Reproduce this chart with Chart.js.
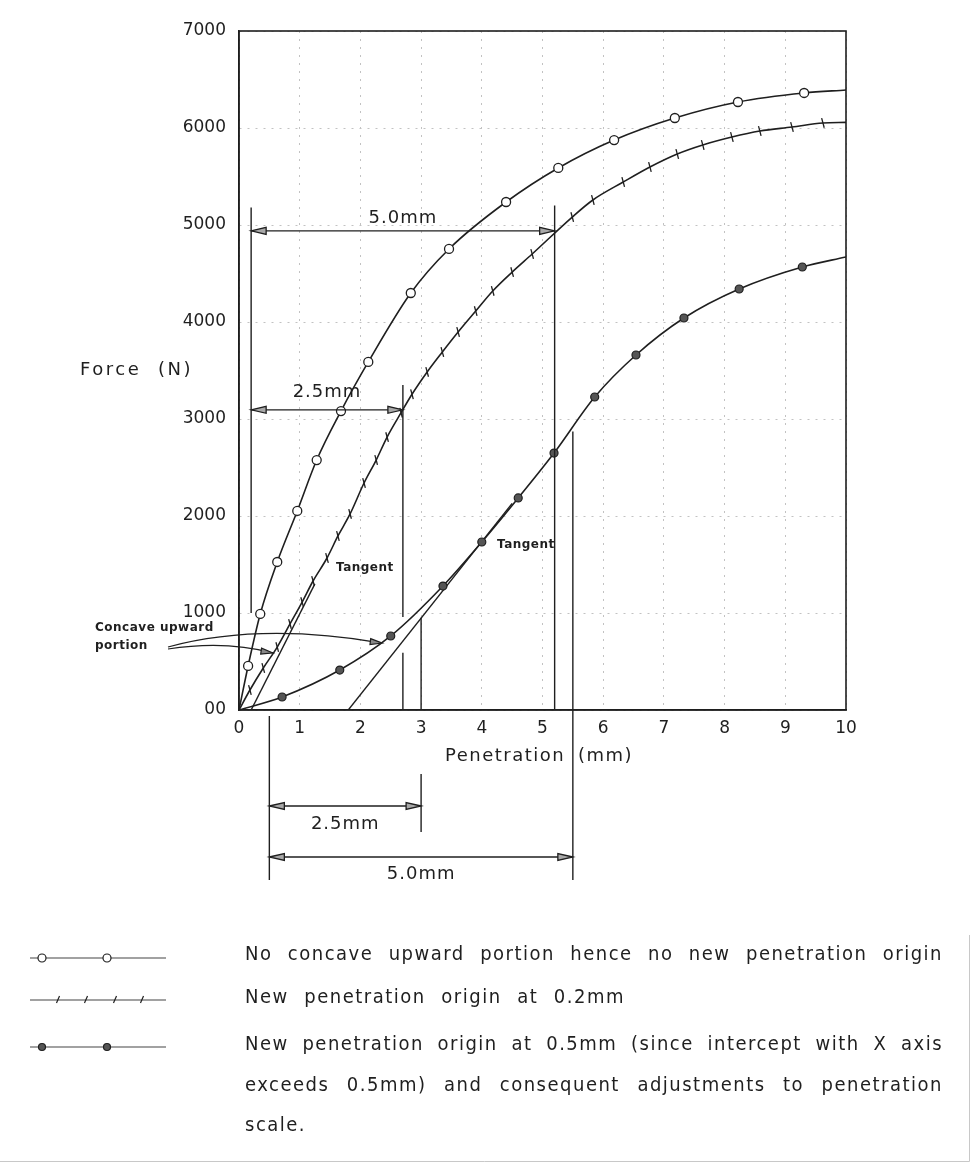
<!DOCTYPE html>
<html>
<head>
<meta charset="utf-8">
<script src="https://cdn.jsdelivr.net/npm/chart.js@4.4.0/dist/chart.umd.min.js"></script>
<style>
  html, body { margin: 0; padding: 0; background: #ffffff; }
  #wrap { width: 973px; height: 1166px; }
</style>
</head>
<body>
<div id="wrap"><canvas id="chart" width="973" height="1166"></canvas></div>
<script>
// Force vs penetration

// curve with open circles
var penCircle   = [0, 0.15, 0.35, 0.63, 0.96, 1.28, 1.68, 2.13, 2.83, 3.46, 4.40, 5.26, 6.18, 7.18, 8.22, 9.31, 10];
var forceCircle = [0, 454, 990, 1526, 2052, 2577, 3082, 3588, 4299, 4753, 5237, 5588, 5876, 6103, 6268, 6361, 6392];

// curve with tick marks
var penTick   = [0, 0.18, 0.40, 0.63, 0.84, 1.04, 1.22, 1.45, 1.63, 1.83, 2.06, 2.26, 2.44, 2.67, 2.85, 3.10, 3.35, 3.61, 3.90, 4.18, 4.50, 4.83, 5.49, 5.83, 6.33, 6.77, 7.22, 7.64, 8.12, 8.58, 9.11, 9.62, 10];
var forceTick = [0, 206, 433, 649, 887, 1113, 1330, 1567, 1794, 2021, 2340, 2577, 2814, 3065, 3255, 3485, 3691, 3897, 4113, 4320, 4515, 4701, 5082, 5258, 5443, 5598, 5732, 5825, 5907, 5969, 6010, 6052, 6058];

// curve with filled dots
var penDot   = [0, 0.71, 1.66, 2.50, 3.36, 4.00, 4.60, 5.19, 5.86, 6.54, 7.33, 8.24, 9.28, 10];
var forceDot = [0, 134, 412, 763, 1278, 1732, 2186, 2649, 3227, 3660, 4041, 4340, 4567, 4670];

// tangents
var tanPenA   = [0.2, 1.25];
var tanForceA = [0, 1300];
var tanPenB   = [1.8, 4.5];
var tanForceB = [0, 2130];

// axis ticks
var xTicks = [0, 1, 2, 3, 4, 5, 6, 7, 8, 9, 10];
var yTicks = [0, 1000, 2000, 3000, 4000, 5000, 6000, 7000];

// dimension lines (mm / N)
var dimTop  = { from: 0.2, to: 5.2, force: 4940, label: "5.0mm" };
var dimMid  = { from: 0.2, to: 2.7, force: 3095, label: "2.5mm" };
var dimLow1 = { from: 0.5, to: 3.0, label: "2.5mm" };
var dimLow2 = { from: 0.5, to: 5.5, label: "5.0mm" };

var INK = "#1f1f1f";

function toPoints(xs, ys) {
    return xs.map(function(x, i) { return { x: x, y: ys[i] }; });
}

// no marker on first and last point
function radii(n, r) {
    return Array.from({ length: n }, function(_, i) { return (i === 0 || i === n - 1) ? 0 : r; });
}

// arrow head, tip at (x, y), dir = -1 points left, +1 points right
function arrowHead(ctx, x, y, dir) {
    ctx.beginPath();
    ctx.moveTo(x, y);
    ctx.lineTo(x - dir * 15, y - 3.5);
    ctx.lineTo(x - dir * 15, y + 3.5);
    ctx.closePath();
    ctx.fillStyle = "#a8a8a8";
    ctx.fill();
    ctx.stroke();
}

function dimension(ctx, x1, x2, y, label, labelY) {
    ctx.beginPath();
    ctx.moveTo(x1, y);
    ctx.lineTo(x2, y);
    ctx.stroke();
    arrowHead(ctx, x1, y, -1);
    arrowHead(ctx, x2, y, 1);
    ctx.fillStyle = INK;
    ctx.font = "18px 'DejaVu Sans'";
    ctx.letterSpacing = "1px";
    ctx.textAlign = "center";
    ctx.textBaseline = "middle";
    ctx.fillText(label, (x1 + x2) / 2, labelY);
    ctx.letterSpacing = "0px";
}

function vline(ctx, x, y1, y2) {
    ctx.beginPath();
    ctx.moveTo(x, y1);
    ctx.lineTo(x, y2);
    ctx.stroke();
}

// justified text line
function textLine(ctx, str, x, y, width) {
    var words = str.split(" ");
    ctx.textAlign = "left";
    if (!width || words.length < 2) {
        ctx.fillText(str, x, y);
        return;
    }
    var total = 0;
    words.forEach(function(w) { total += ctx.measureText(w).width; });
    var gap = (width - total) / (words.length - 1);
    var cx = x;
    words.forEach(function(w) {
        ctx.fillText(w, cx, y);
        cx += ctx.measureText(w).width + gap;
    });
}

var annotations = {
    id: "annotations",
    afterDatasetsDraw: function(chart) {
        var ctx = chart.ctx;
        var a = chart.chartArea;
        var sx = chart.scales.x, sy = chart.scales.y;
        var px = function(v) { return sx.getPixelForValue(v); };
        var py = function(v) { return sy.getPixelForValue(v); };

        ctx.save();
        ctx.strokeStyle = INK;
        ctx.lineWidth = 1.6;

        // frame
        ctx.strokeRect(a.left, a.top, a.right - a.left, a.bottom - a.top);

        // vertical construction lines
        ctx.lineWidth = 1.4;
        vline(ctx, px(0.2), py(5180), py(1000));
        vline(ctx, px(2.7), py(3350), py(960));
        vline(ctx, px(2.7), py(590), a.bottom);
        vline(ctx, px(5.2), py(5200), a.bottom);
        vline(ctx, px(3.0), py(950), a.bottom);
        vline(ctx, px(5.5), py(2870), a.bottom + 170);
        vline(ctx, px(0.5), a.bottom + 6, a.bottom + 170);
        vline(ctx, px(3.0), a.bottom + 64, a.bottom + 122);

        // dimension arrows
        ctx.lineWidth = 1.3;
        dimension(ctx, px(dimTop.from), px(dimTop.to), py(dimTop.force), dimTop.label, py(dimTop.force) - 12);
        dimension(ctx, px(dimMid.from), px(dimMid.to), py(dimMid.force), dimMid.label, py(dimMid.force) - 17);
        dimension(ctx, px(dimLow1.from), px(dimLow1.to), a.bottom + 96, dimLow1.label, a.bottom + 114);
        dimension(ctx, px(dimLow2.from), px(dimLow2.to), a.bottom + 147, dimLow2.label, a.bottom + 164);

        // "Concave upward portion" pointers
        ctx.lineWidth = 1.2;
        ctx.beginPath();
        ctx.moveTo(168, 647);
        ctx.quadraticCurveTo(260, 622, px(2.36), py(690));
        ctx.stroke();
        ctx.beginPath();
        ctx.moveTo(168, 649);
        ctx.quadraticCurveTo(225, 640, px(0.56), py(588));
        ctx.stroke();
        [[px(2.36), py(690), 0.12], [px(0.56), py(588), 0.15]].forEach(function(t) {
            ctx.save();
            ctx.translate(t[0], t[1]);
            ctx.rotate(t[2]);
            ctx.beginPath();
            ctx.moveTo(0, 0);
            ctx.lineTo(-12, -3);
            ctx.lineTo(-12, 3);
            ctx.closePath();
            ctx.fillStyle = "#888";
            ctx.fill();
            ctx.stroke();
            ctx.restore();
        });

        ctx.fillStyle = INK;
        ctx.font = "bold 12px 'DejaVu Sans'";
        ctx.letterSpacing = "0.5px";
        ctx.textAlign = "left";
        ctx.textBaseline = "middle";
        ctx.fillText("Concave upward", 95, 628);
        ctx.fillText("portion", 95, 646);
        ctx.fillText("Tangent", 336, 568);
        ctx.fillText("Tangent", 497, 545);

        // axis titles
        ctx.font = "18px 'DejaVu Sans'";
        ctx.letterSpacing = "2.5px";
        ctx.fillText("Force", 80, 370);
        ctx.fillText("(N)", 158, 370);
        ctx.letterSpacing = "1.5px";
        ctx.fillText("Penetration", 445, a.bottom + 46);
        ctx.fillText("(mm)", 578, a.bottom + 46);
        ctx.letterSpacing = "0px";

        // legend
        var lx1 = 30, lx2 = 166;
        var rows = [958, 1000, 1047];
        ctx.lineWidth = 1.2;
        ctx.strokeStyle = "#444";
        rows.forEach(function(y) {
            ctx.beginPath();
            ctx.moveTo(lx1, y);
            ctx.lineTo(lx2, y);
            ctx.stroke();
        });
        ctx.strokeStyle = INK;
        [42, 107].forEach(function(x) {
            ctx.beginPath();
            ctx.arc(x, rows[0], 4, 0, Math.PI * 2);
            ctx.fillStyle = "#fff";
            ctx.fill();
            ctx.stroke();
            ctx.beginPath();
            ctx.arc(x, rows[2], 3.5, 0, Math.PI * 2);
            ctx.fillStyle = "#555";
            ctx.fill();
            ctx.stroke();
        });
        [58, 86, 115, 142].forEach(function(x) {
            ctx.beginPath();
            ctx.moveTo(x - 1.5, rows[1] + 3);
            ctx.lineTo(x + 1.5, rows[1] - 4);
            ctx.stroke();
        });

        ctx.fillStyle = INK;
        ctx.font = "20px 'DejaVu Sans Condensed', 'DejaVu Sans'";
        ctx.letterSpacing = "1.5px";
        ctx.textBaseline = "middle";
        var tx = 245, tw = 698;
        textLine(ctx, "No concave upward portion hence no new penetration origin", tx, 955, tw);
        textLine(ctx, "New penetration origin at 0.2mm", tx, 998, 380);
        textLine(ctx, "New penetration origin at 0.5mm (since intercept with X axis", tx, 1045, tw);
        textLine(ctx, "exceeds 0.5mm) and consequent adjustments to penetration", tx, 1086, tw);
        textLine(ctx, "scale.", tx, 1126, 0);
        ctx.letterSpacing = "0px";

        // page edge
        ctx.strokeStyle = "#c8c8c8";
        ctx.lineWidth = 1;
        ctx.beginPath();
        ctx.moveTo(0, 1161.5);
        ctx.lineTo(969.5, 1161.5);
        ctx.lineTo(969.5, 935);
        ctx.stroke();

        ctx.restore();
    }
};

var gridOpts = {
    color: "#c2c2c2",
    lineWidth: 1,
    drawTicks: false
};

var canvas = document.getElementById("chart");

var chart = new Chart(canvas, {
    type: "line",
    data: {
        datasets: [
            {
                label: "No concave upward portion hence no new penetration origin",
                data: toPoints(penCircle, forceCircle),
                borderColor: INK,
                borderWidth: 1.6,
                pointStyle: "circle",
                pointRadius: radii(penCircle.length, 4.5),
                pointBackgroundColor: "#ffffff",
                pointBorderColor: INK,
                pointBorderWidth: 1.3,
                cubicInterpolationMode: "monotone"
            },
            {
                label: "New penetration origin at 0.2mm",
                data: toPoints(penTick, forceTick),
                borderColor: INK,
                borderWidth: 1.6,
                pointStyle: "line",
                pointRotation: 75,
                pointRadius: radii(penTick.length, 5),
                pointBorderColor: INK,
                pointBorderWidth: 1.3,
                cubicInterpolationMode: "monotone"
            },
            {
                label: "New penetration origin at 0.5mm",
                data: toPoints(penDot, forceDot),
                borderColor: INK,
                borderWidth: 1.6,
                pointStyle: "circle",
                pointRadius: radii(penDot.length, 4),
                pointBackgroundColor: "#555555",
                pointBorderColor: INK,
                pointBorderWidth: 1.2,
                cubicInterpolationMode: "monotone"
            },
            {
                label: "Tangent A",
                data: toPoints(tanPenA, tanForceA),
                borderColor: INK,
                borderWidth: 1.4,
                pointRadius: 0
            },
            {
                label: "Tangent B",
                data: toPoints(tanPenB, tanForceB),
                borderColor: INK,
                borderWidth: 1.4,
                pointRadius: 0
            }
        ]
    },
    options: {
        responsive: false,
        animation: false,
        devicePixelRatio: 1,
        layout: {
            padding: { left: 0, top: 31, right: 127, bottom: 416 }
        },
        plugins: {
            legend: { display: false },
            tooltip: { enabled: false }
        },
        scales: {
            x: {
                type: "linear",
                min: 0,
                max: 10,
                afterFit: function(scale) { scale.height = 40; },
                afterBuildTicks: function(scale) {
                    scale.ticks = xTicks.map(function(v) { return { value: v }; });
                },
                grid: gridOpts,
                // dash here applies to the grid lines
                border: { display: true, color: INK, width: 1.5, dash: [2, 6] },
                ticks: {
                    padding: 8,
                    color: INK,
                    font: { family: "'DejaVu Sans'", size: 17 }
                }
            },
            y: {
                type: "linear",
                min: 0,
                max: 7000,
                afterFit: function(scale) { scale.width = 239; },
                afterBuildTicks: function(scale) {
                    scale.ticks = yTicks.map(function(v) { return { value: v }; });
                },
                grid: gridOpts,
                border: { display: true, color: INK, width: 1.5, dash: [2, 6] },
                ticks: {
                    padding: 13,
                    color: INK,
                    font: { family: "'DejaVu Sans'", size: 17 },
                    callback: function(v) { return v === 0 ? "00" : String(v); }
                }
            }
        }
    },
    plugins: [annotations]
});
</script>
</body>
</html>
